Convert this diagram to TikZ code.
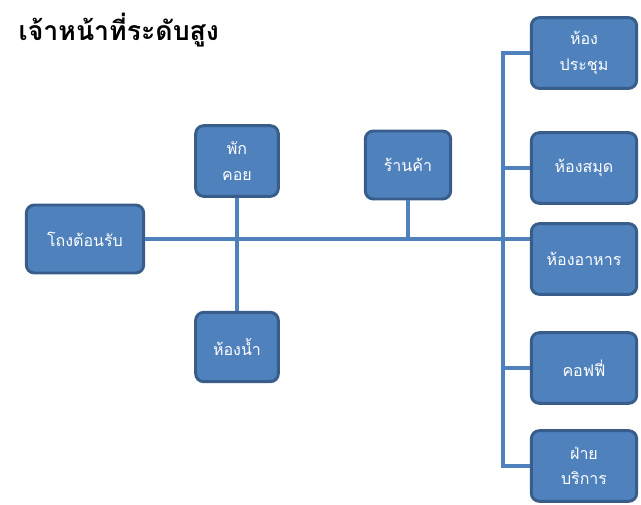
\documentclass[tikz,border=0pt]{standalone}
\usepackage{fontspec}
\newfontfamily\thaifont[Script=Thai]{Loma}
\usepackage{tikz}
\usetikzlibrary{positioning}
\usepackage{xcolor}
\definecolor{roomblue}{RGB}{79,129,189}
\definecolor{roomedge}{RGB}{56,93,138}
\tikzstyle{room} = [rectangle, rounded corners=6pt, text centered, align=center, draw=roomedge, fill=roomblue, line width=2.2pt, text=white, font=\thaifont\fontsize{12}{14}\selectfont]
\tikzstyle{sideroom} = [room, minimum width=79pt, minimum height=53pt]
\tikzstyle{link} = [line width=3pt, color=roomblue]

\begin{document}
\begin{tikzpicture}[x=0.75pt, y=-0.75pt]
\useasboundingbox (0,0) rectangle (641,504);

% title
\node (title) [anchor=west, font=\thaifont\bfseries\fontsize{20}{24}\selectfont] at (14,30) {เจ้าหน้าที่ระดับสูง};

% left part
\node (hall) [room, minimum width=88pt, minimum height=51pt] at (85,239) {โถงต้อนรับ};
\node (rest) [room, minimum width=62pt, minimum height=53pt] at (237,161) {พัก\\[5pt]คอย};
\node (wc) [room, minimum width=62pt, minimum height=52pt] at (237,347) {ห้องน้ำ};
\node (shop) [room, minimum width=64pt, minimum height=51pt] at (408,165) {ร้านค้า};

% right column
\node (meeting) [sideroom] at (584,53) {ห้อง\\[5pt]ประชุม};
\node (library) [sideroom] at (584,168) {ห้องสมุด};
\node (dining) [sideroom] at (584,259) {ห้องอาหาร};
\node (coffee) [sideroom] at (584,368) {คอฟฟี่};
\node (service) [sideroom] at (584,466) {ฝ่าย\\[5pt]บริการ};

% connectors
\coordinate (bus) at (503,0);
\draw[link] (hall.east) -- (hall.east -| dining.west);
\draw[link] (rest.south) -- (wc.north);
\draw[link] (shop.south) -- (shop.south |- hall.east);
\draw[link] (meeting.west) -- (meeting.west -| bus) |- (service.west);
\draw[link] (library.west) -- (library.west -| bus);
\draw[link] (coffee.west) -- (coffee.west -| bus);
\end{tikzpicture}
\end{document}
